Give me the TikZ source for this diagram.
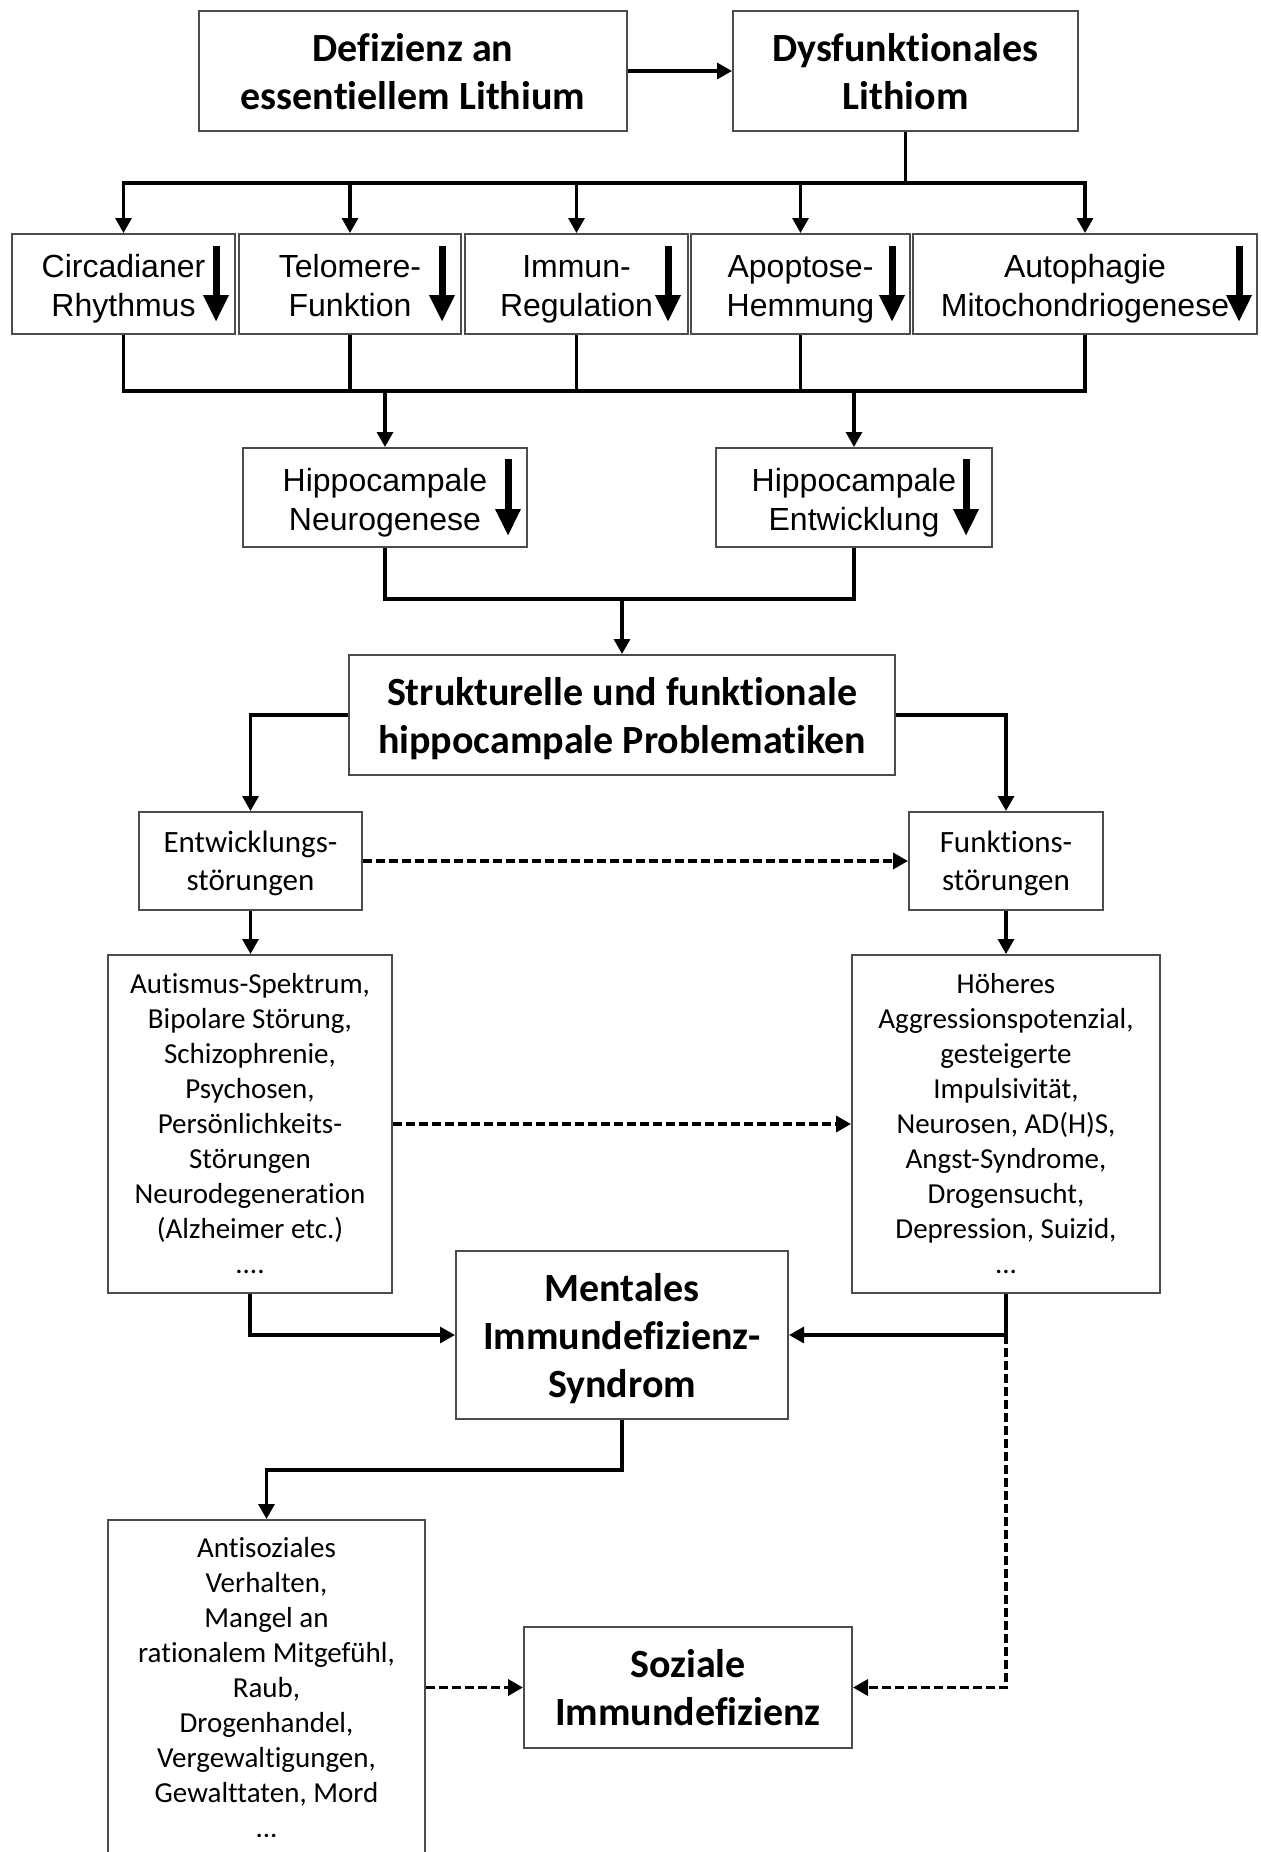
\documentclass[tikz,border=0pt]{standalone}
\usepackage{fontspec}
\setmainfont{Carlito}[Ligatures={TeX,NoCommon}]
\newfontfamily\arialfont{Liberation Sans}
\usetikzlibrary{arrows.meta,calc}
\newcommand{\myup}[1]{\rule{0pt}{#1}}
\newcommand{\mydn}[1]{\rule[-#1]{0pt}{#1}}
\tikzset{
  box/.style={draw=black!70, line width=1pt, inner sep=0pt, align=center, fill=white},
  headbox/.style={box, font=\fontsize{20pt}{24pt}\selectfont\bfseries},
  arbox/.style={box, font=\arialfont\fontsize{16pt}{19.5pt}\selectfont},
  midbox/.style={box, font=\fontsize{15.5pt}{19pt}\selectfont},
  listbox/.style={box, font=\fontsize{14.5pt}{17.5pt}\selectfont},
  conn/.style={line width=1.6pt, -{Triangle[length=7.5pt,width=8pt]}},
  bus/.style={line width=1.9pt},
  dconn/.style={line width=1.8pt, dash pattern=on 4.3pt off 2.2pt, -{Triangle[length=7.5pt,width=8pt]}},
  downarr/.style={line width=3.5pt, -{Triangle[length=13.5pt,width=12pt]}},
}
\newcommand{\boxarrow}[3]{% node, xoffset, yoffset
  \draw[downarr] ([xshift=#2,yshift=-#3]#1.north east) -- ([xshift=#2,yshift=#3]#1.south east);}
\begin{document}
\begin{tikzpicture}[x=0.5pt,y=-0.5pt]
\useasboundingbox[fill=white] (0,0) rectangle (1261,1852);
% top
\node[headbox, minimum width=214pt, minimum height=60pt] (defz) at (413,71) {\myup{19pt}Defizienz an\\essentiellem Lithium\mydn{5pt}};
\node[headbox, minimum width=172.5pt, minimum height=60pt] (dysf) at (905.5,71) {\myup{19pt}Dysfunktionales\\Lithiom\mydn{5pt}};
% five boxes
\node[arbox, minimum width=111.5pt, minimum height=50pt] (b1) at (123.5,284) {\myup{16.5pt}Circadianer\\Rhythmus\mydn{3.5pt}};
\node[arbox, minimum width=111pt, minimum height=50pt] (b2) at (350,284) {\myup{16.5pt}Telomere-\\Funktion\mydn{3.5pt}};
\node[arbox, minimum width=111.5pt, minimum height=50pt] (b3) at (576.5,284) {\myup{16.5pt}Immun-\\Regulation\mydn{3.5pt}};
\node[arbox, minimum width=109.5pt, minimum height=50pt] (b4) at (800.5,284) {\myup{16.5pt}Apoptose-\\Hemmung\mydn{3.5pt}};
\node[arbox, minimum width=172pt, minimum height=50pt] (b5) at (1085,284) {\myup{16.5pt}Autophagie\\Mitochondriogenese\mydn{3.5pt}};
% hippocampal
\node[arbox, minimum width=142pt, minimum height=49.5pt] (h1) at (385,497.5) {\myup{16.5pt}Hippocampale\\Neurogenese\mydn{3.5pt}};
\node[arbox, minimum width=138pt, minimum height=49.5pt] (h2) at (854,497.5) {\myup{16.5pt}Hippocampale\\Entwicklung\mydn{3.5pt}};
% structural
\node[headbox, minimum width=273pt, minimum height=60pt] (strukt) at (622,715) {\myup{19pt}Strukturelle und funktionale\\hippocampale Problematiken\mydn{5pt}};
\node[midbox, minimum width=111.5pt, minimum height=49pt] (entw) at (250.5,861) {\myup{14pt}Entwicklungs-\\störungen\mydn{4pt}};
\node[midbox, minimum width=97pt, minimum height=49pt] (funk) at (1006,861) {\myup{14pt}Funktions-\\störungen\mydn{4pt}};
\node[listbox, minimum width=142pt, minimum height=169pt] (llist) at (250,1124) {Autismus-Spektrum,\\Bipolare Störung,\\Schizophrenie,\\Psychosen,\\Persönlichkeits-\\Störungen\\Neurodegeneration\\(Alzheimer etc.)\\....};
\node[listbox, minimum width=154pt, minimum height=169pt] (rlist) at (1006,1124) {Höheres\\Aggressionspotenzial,\\gesteigerte\\Impulsivität,\\Neurosen, AD(H)S,\\Angst-Syndrome,\\Drogensucht,\\Depression, Suizid,\\...};
\node[headbox, minimum width=166pt, minimum height=84pt] (mental) at (622,1335) {\myup{19pt}Mentales\\Immundefizienz-\\Syndrom\mydn{5pt}};
\node[listbox, minimum width=158.5pt, minimum height=168pt, anchor=north] (anti) at (266.5,1519) {Antisoziales\\Verhalten,\\Mangel an\\rationalem Mitgefühl,\\Raub,\\Drogenhandel,\\Vergewaltigungen,\\Gewalttaten, Mord\\...};
\node[headbox, minimum width=164pt, minimum height=60.5pt] (soz) at (688,1687.5) {\myup{19pt}Soziale\\Immundefizienz\mydn{5pt}};
% decorative down arrows
\boxarrow{b1}{-10pt}{6.5pt}
\boxarrow{b2}{-10pt}{6.5pt}
\boxarrow{b3}{-10.5pt}{6.5pt}
\boxarrow{b4}{-9.5pt}{6.5pt}
\boxarrow{b5}{-9.5pt}{6.5pt}
\boxarrow{h1}{-10pt}{6pt}
\boxarrow{h2}{-13.5pt}{6pt}
% connectors
\coordinate (busA) at (0,183);
\coordinate (busB) at (0,391);
\coordinate (busC) at (0,599);
\draw[conn] (defz.east) -- (dysf.west);
\draw[bus] (dysf.south) -- (dysf.south |- busA);
\draw[bus] ([xshift=-1pt]b1.north |- busA) -- ([xshift=1pt]b5.north |- busA);
\foreach \b in {b1,b2,b3,b4,b5} {
  \draw[conn] (\b.north |- busA) -- (\b.north);
  \draw[bus] (\b.south) -- (\b.south |- busB);
}
\draw[bus] ([xshift=-1pt]b1.south |- busB) -- ([xshift=1pt]b5.south |- busB);
\draw[conn] (h1.north |- busB) -- (h1.north);
\draw[conn] (h2.north |- busB) -- (h2.north);
\draw[bus] (h1.south) -- (h1.south |- busC) -- (h2.south |- busC) -- (h2.south);
\draw[conn] (strukt.north |- busC) -- (strukt.north);
\draw[conn] (strukt.west) -| (entw.north);
\draw[conn] (strukt.east) -| (funk.north);
\draw[dconn] (entw.east) -- (funk.west);
\draw[conn] (entw.south) -- (llist.north -| entw.south);
\draw[conn] (funk.south) -- (rlist.north -| funk.south);
\draw[dconn] (llist.east) -- (rlist.west);
\draw[conn] (llist.south) |- (mental.west);
\draw[conn] (rlist.south) |- (mental.east);
\draw[dconn] (rlist.south |- mental.east) |- (soz.east);
\draw[conn] (mental.south) -- ++(0,50) -| (anti.north);
\draw[dconn] (anti.east |- soz.west) -- (soz.west);
\end{tikzpicture}
\end{document}
